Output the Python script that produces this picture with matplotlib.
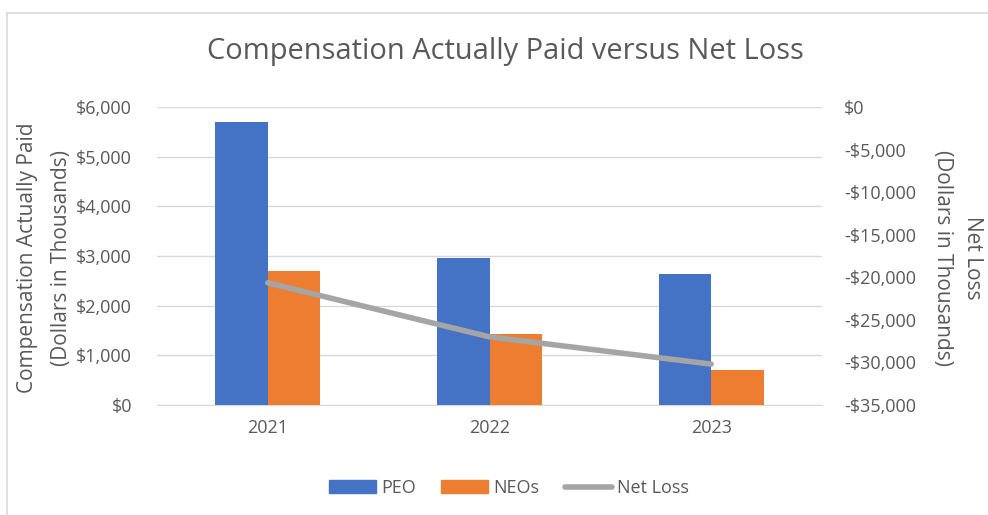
import matplotlib
matplotlib.use("Agg")
import matplotlib.pyplot as plt
import numpy as np
from matplotlib.patches import Rectangle
from matplotlib.lines import Line2D
from matplotlib.ticker import FuncFormatter

years = ["2021", "2022", "2023"]
peo = [5690, 2950, 2640]
neos = [2700, 1420, 700]
net_loss = [-20650, -27000, -30200]

plt.rcParams['font.family'] = ['Open Sans', 'DejaVu Sans']
TXT = '#595959'

fig = plt.figure(figsize=(9.88, 5.15), dpi=100)
ax = fig.add_axes([157/988, 1-405/515, (822-157)/988, (405-107)/515])
ax2 = ax.twinx()

x = np.arange(len(years))
w = 0.237
ax.bar(x - w/2, peo, width=w, color='#4472C4', zorder=3, label='PEO')
ax.bar(x + w/2, neos, width=w, color='#ED7D31', zorder=3, label='NEOs')
ax.set_ylim(0, 6000)
ax.set_yticks(np.arange(0, 6001, 1000))
ax.set_xlim(-0.5, 2.5)
ax.set_xticks(x)
ax.set_xticklabels(years)
ax.yaxis.set_major_formatter(FuncFormatter(lambda v, p: f"${v:,.0f}"))
ax.grid(axis='y', color='#D9D9D9', linewidth=1, zorder=0)
ax.set_axisbelow(True)

ax2.plot(x, net_loss, color='#A5A5A5', linewidth=4, zorder=4, solid_capstyle='round')
ax2.set_ylim(-35000, 0)
ax2.set_yticks(np.arange(-35000, 1, 5000))
ax2.yaxis.set_major_formatter(FuncFormatter(lambda v, p: "$0" if v == 0 else f"-${abs(v):,.0f}"))

for a in (ax, ax2):
    for s in a.spines.values():
        s.set_visible(False)
    a.tick_params(length=0, labelsize=13, colors=TXT)
ax.spines['bottom'].set_visible(True)
ax.spines['bottom'].set_color('#D9D9D9')
ax.tick_params(axis='x', pad=10)
ax.tick_params(axis='y', pad=18)
ax2.tick_params(axis='y', pad=16)

fig.text(28/988, 1-258/515, "Compensation Actually Paid", fontsize=15, color=TXT, rotation=90, ha='center', va='center')
fig.text(61/988, 1-258/515, "(Dollars in Thousands)", fontsize=15, color=TXT, rotation=90, ha='center', va='center')
fig.text(972/988, 1-258/515, "Net Loss", fontsize=15, color=TXT, rotation=270, ha='center', va='center')
fig.text(942/988, 1-258/515, "(Dollars in Thousands)", fontsize=15, color=TXT, rotation=270, ha='center', va='center')

fig.text(505/988, 1-52/515, "Compensation Actually Paid versus Net Loss", fontsize=20.9, color=TXT, ha='center', va='center')

handles = [Rectangle((0, 0), 1, 1, color='#4472C4'),
           Rectangle((0, 0), 1, 1, color='#ED7D31'),
           Line2D([0], [0], color='#A5A5A5', linewidth=4, solid_capstyle='round')]
fig.legend(handles, ["PEO", "NEOs", "Net Loss"], loc='center', bbox_to_anchor=(509/988, 1-488/515),
           ncol=3, frameon=False, fontsize=13, labelcolor=TXT, handlelength=2.6, handleheight=0.75,
           handletextpad=0.3, columnspacing=1.4)

fig.add_artist(Line2D([6.5/988, 6.5/988], [0, 1-13/515], transform=fig.transFigure, color='#D9D9D9', linewidth=1.2))
fig.add_artist(Line2D([6.5/988, 1], [1-13/515, 1-13/515], transform=fig.transFigure, color='#D9D9D9', linewidth=1.2))

fig.savefig("out.png", dpi=100, facecolor='white')
